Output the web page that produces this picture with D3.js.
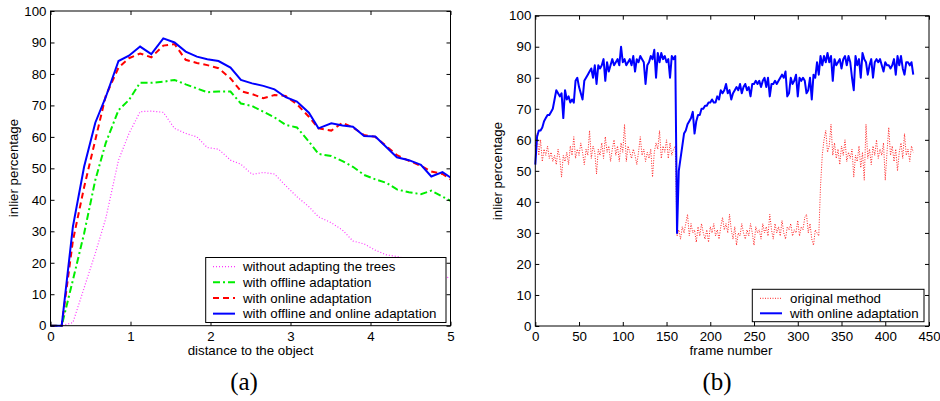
<!DOCTYPE html>
<html>
<head>
<meta charset="utf-8">
<script src="https://cdn.jsdelivr.net/npm/d3@7"></script>
<style>
  body { margin: 0; background: #fff; }
  svg { font-family: "Liberation Sans", Arial, sans-serif; }
  .tick text { font-size: 13.3px; fill: #000; }
</style>
</head>
<body>
<div id="chart"></div>
<script>
// ---- panel (a): inlier percentage vs distance ----
const distance = [0, 0.14, 0.28, 0.42, 0.56, 0.69, 0.85, 0.98, 1.12, 1.26, 1.41, 1.55, 1.69, 1.83, 1.96, 2.10,
  2.25, 2.38, 2.52, 2.66, 2.80, 2.94, 3.08, 3.23, 3.35, 3.51, 3.65, 3.78, 3.92, 4.06, 4.20, 4.33, 4.48, 4.63, 4.76, 4.90, 5.0]
const noAdapt = [0, 0, 1, 12, 23, 34, 52.6, 61, 68, 68.2, 67.8, 62.7, 61.1, 60, 56.6, 56.1,
  52.6, 51.3, 48.1, 48.7, 48.2, 44.5, 41, 37.8, 34.6, 32.7, 30.4, 26.9, 26, 24, 22.5, 22, 21, 19, 18, 16, 15]
const offlineAdapt = [0, 0, 14.5, 29.3, 46.3, 58, 68.5, 71.7, 77.2, 77.2, 77.5, 78.1, 76.7, 75.4, 74.2, 74.4,
  74.4, 70.6, 69.8, 68, 66.2, 63.8, 63, 58.5, 54.6, 53.9, 52.3, 50.5, 47.9, 46.5, 45.4, 43.3, 42.4, 41.8, 42.9, 41, 39.7]
const onlineAdapt = [0, 0, 27, 44, 59, 73, 82, 85, 86.5, 85.3, 89, 89.5, 84.5, 83.5, 82.8, 81.8,
  78.6, 74.5, 73.6, 72.3, 73.3, 73, 70.4, 66.4, 62.7, 62, 64.5, 63, 60.6, 60, 57, 54.2, 52.4, 50.8, 49, 48.2, 46.5]
const bothAdapt = [0, 0, 31.5, 50.5, 64.5, 72.6, 84.1, 85.8, 88.7, 86.3, 91.3, 90, 87.1, 85.5, 84.7, 84.1,
  82, 78.1, 77, 76.2, 75.1, 72.6, 71.2, 67.7, 62.7, 64.3, 63.6, 63.2, 60.3, 60.1, 56.7, 53.5, 52.6, 51.1, 47.4, 48.8, 47.1]
const legendA = ["without adapting the trees", "with offline adaptation", "with online adaptation", "with offline and online adaptation"]

// ---- panel (b): inlier percentage vs frame number (every 2nd frame) ----
const frameStart = 0, frameStep = 2
const original = [58, 62, 55, 60, 53, 57, 55, 58, 54, 56, 53,
  55, 52, 57, 54, 48, 55, 53, 56, 52, 58,
  55, 61, 54, 57, 55, 59, 56, 52, 57, 55,
  63, 54, 58, 56, 49, 57, 55, 59, 54, 61,
  56, 58, 53, 57, 60, 55, 58, 53, 59, 56,
  65, 53, 58, 56, 54, 57, 55, 52, 56, 61,
  55, 57, 53, 56, 54, 57, 48, 56, 59, 57,
  63, 54, 58, 56, 60, 54, 59, 55, 57, 58,
  29, 31, 28, 32, 30, 33, 36, 29, 33, 30,
  31, 27, 32, 29, 33, 30, 28, 31, 27, 32,
  30, 33, 29, 31, 28, 32, 35, 31, 33, 30,
  36, 31, 28, 32, 26, 30, 29, 33, 30, 28,
  31, 29, 33, 30, 26, 32, 30, 31, 28, 33,
  30, 32, 29, 36, 31, 28, 33, 30, 32, 29,
  34, 30, 28, 32, 31, 33, 29, 31, 30, 34,
  29, 32, 31, 35, 36, 30, 33, 28, 26, 31,
  30, 29, 45, 55, 60, 63, 56, 58, 65, 55,
  59, 54, 57, 52, 58, 55, 60, 53, 56, 54,
  57, 48, 55, 53, 58, 51, 56, 47, 65, 54,
  57, 52, 58, 55, 60, 54, 57, 55, 59, 47,
  56, 64, 55, 58, 53, 57, 50, 56, 59, 54,
  62, 55, 57, 53, 58, 56]
const onlineMethod = [52, 61, 63, 63, 64, 66, 67, 68, 68, 69, 70,
  73, 76, 75, 74, 75, 67, 76, 73, 74, 72,
  73, 72, 79, 80, 77, 75, 73, 79, 80, 81,
  82, 83, 80, 84, 78, 84, 83, 84, 86, 79,
  85, 82, 84, 86, 84, 85, 86, 84, 90, 85,
  86, 84, 85, 86, 84, 87, 82, 86, 85, 87,
  86, 85, 78, 84, 85, 87, 86, 89, 80, 88,
  85, 88, 86, 87, 85, 86, 80, 87, 86, 87,
  30, 50, 54, 58, 62, 63, 65, 66, 67, 69,
  62, 66, 68, 68, 70, 70, 71, 71, 72, 72,
  73, 72, 72, 74, 73, 76, 75, 76, 78, 75,
  76, 73, 75, 76, 77, 76, 78, 75, 77, 78,
  76, 77, 74, 78, 78, 79, 78, 79, 77, 79,
  80, 77, 80, 74, 78, 78, 79, 78, 79, 80,
  81, 80, 82, 74, 75, 80, 78, 79, 81, 74,
  80, 79, 80, 79, 75, 76, 80, 73, 81, 80,
  85, 81, 87, 84, 87, 85, 88, 85, 87, 79,
  86, 84, 85, 86, 83, 86, 87, 84, 87, 85,
  80, 76, 87, 84, 86, 80, 88, 86, 85, 81,
  84, 86, 80, 85, 86, 85, 86, 84, 82, 85,
  84, 84, 83, 84, 86, 81, 87, 84, 87, 83,
  81, 85, 85, 84, 85, 81]
const legendB = ["original method", "with online adaptation"]

const W = 940, H = 401
const svg = d3.select("#chart").append("svg").attr("width", W).attr("height", H)

function box(g, x, y) {
  g.append("rect")
    .attr("x", x.range()[0]).attr("y", y.range()[1])
    .attr("width", x.range()[1] - x.range()[0])
    .attr("height", y.range()[0] - y.range()[1])
    .attr("fill", "none").attr("stroke", "#000").attr("stroke-width", 1)
}

function axes(g, x, y, xt, yt) {
  const tl = 4
  g.append("g").attr("transform", "translate(0," + y.range()[0] + ")")
    .call(d3.axisBottom(x).tickValues(xt).tickFormat(d3.format("d")).tickSizeInner(-tl).tickSizeOuter(0).tickPadding(6))
  g.append("g").attr("transform", "translate(0," + y.range()[1] + ")")
    .call(d3.axisTop(x).tickValues(xt).tickSizeInner(-tl).tickSizeOuter(0).tickFormat(""))
  g.append("g").attr("transform", "translate(" + x.range()[0] + ",0)")
    .call(d3.axisLeft(y).tickValues(yt).tickFormat(d3.format("d")).tickSizeInner(-tl).tickSizeOuter(0).tickPadding(4))
  g.append("g").attr("transform", "translate(" + x.range()[1] + ",0)")
    .call(d3.axisRight(y).tickValues(yt).tickSizeInner(-tl).tickSizeOuter(0).tickFormat(""))
  g.selectAll(".domain").remove()
  g.selectAll(".tick line").attr("stroke", "#000")
  box(g, x, y)
}

// ===== panel (a) =====
const xa = d3.scaleLinear().domain([0, 5]).range([50.5, 450.5])
const ya = d3.scaleLinear().domain([0, 100]).range([325.7, 11])
const ga = svg.append("g")

const styleA = [
  {vals: noAdapt, color: "#ff33ff", w: 1.2, dash: "1,2"},
  {vals: offlineAdapt, color: "#00ee00", w: 2, dash: "7,3,2,3"},
  {vals: onlineAdapt, color: "#ff0000", w: 2, dash: "6,4"},
  {vals: bothAdapt, color: "#0000ff", w: 2, dash: null}
]
const lineA = d3.line().x((d, i) => xa(distance[i])).y(d => ya(d))
styleA.forEach(s => {
  ga.append("path").datum(s.vals).attr("d", lineA)
    .attr("fill", "none").attr("stroke", s.color).attr("stroke-width", s.w)
    .attr("stroke-dasharray", s.dash)
})
axes(ga, xa, ya, d3.range(0, 6, 1), d3.range(0, 101, 10))

// legend a
const lgA = ga.append("g")
lgA.append("rect").attr("x", 205.7).attr("y", 257.5).attr("width", 240.3).attr("height", 65)
  .attr("fill", "#fff").attr("stroke", "#000")
legendA.forEach((t, i) => {
  const yy = 266.7 + i * 15.65
  lgA.append("line").attr("x1", 213).attr("x2", 235).attr("y1", yy).attr("y2", yy)
    .attr("stroke", styleA[i].color).attr("stroke-width", styleA[i].w)
    .attr("stroke-dasharray", styleA[i].dash)
  lgA.append("text").attr("x", 243).attr("y", yy).attr("dy", "0.35em")
    .style("font-size", "13.3px").text(t)
})

ga.append("text").attr("x", 250.5).attr("y", 355).attr("text-anchor", "middle")
  .style("font-size", "13.3px").text("distance to the object")
ga.append("text").attr("transform", "translate(18,168) rotate(-90)").attr("text-anchor", "middle")
  .style("font-size", "13.3px").text("inlier percentage")
ga.append("text").attr("x", 244).attr("y", 390).attr("text-anchor", "middle")
  .style("font-family", "'Liberation Serif', 'Times New Roman', serif").style("font-size", "25px").text("(a)")

// ===== panel (b) =====
const xb = d3.scaleLinear().domain([0, 450]).range([535.3, 929])
const yb = d3.scaleLinear().domain([0, 100]).range([326, 15.7])
const gb = svg.append("g")
const lineB = d3.line().x((d, i) => xb(frameStart + i * frameStep)).y(d => yb(d))

const styleB = [
  {vals: original, color: "#ff2222", w: 1, dash: "1,1.5"},
  {vals: onlineMethod, color: "#0000ff", w: 2, dash: null}
]
styleB.forEach(s => {
  gb.append("path").datum(s.vals).attr("d", lineB)
    .attr("fill", "none").attr("stroke", s.color).attr("stroke-width", s.w)
    .attr("stroke-dasharray", s.dash).attr("stroke-linejoin", "round")
})
axes(gb, xb, yb, d3.range(0, 451, 50), d3.range(0, 101, 10))

const lgB = gb.append("g")
lgB.append("rect").attr("x", 752.3).attr("y", 289.3).attr("width", 171.7).attr("height", 32.4)
  .attr("fill", "#fff").attr("stroke", "#000")
legendB.forEach((t, i) => {
  const yy = 298.3 + i * 15
  lgB.append("line").attr("x1", 760).attr("x2", 782).attr("y1", yy).attr("y2", yy)
    .attr("stroke", styleB[i].color).attr("stroke-width", styleB[i].w)
    .attr("stroke-dasharray", styleB[i].dash)
  lgB.append("text").attr("x", 790).attr("y", yy).attr("dy", "0.35em")
    .style("font-size", "13.3px").text(t)
})

gb.append("text").attr("x", 731).attr("y", 355).attr("text-anchor", "middle")
  .style("font-size", "13.3px").text("frame number")
gb.append("text").attr("transform", "translate(502,171) rotate(-90)").attr("text-anchor", "middle")
  .style("font-size", "13.3px").text("inlier percentage")
gb.append("text").attr("x", 717).attr("y", 390).attr("text-anchor", "middle")
  .style("font-family", "'Liberation Serif', 'Times New Roman', serif").style("font-size", "25px").text("(b)")
</script>
</body>
</html>
